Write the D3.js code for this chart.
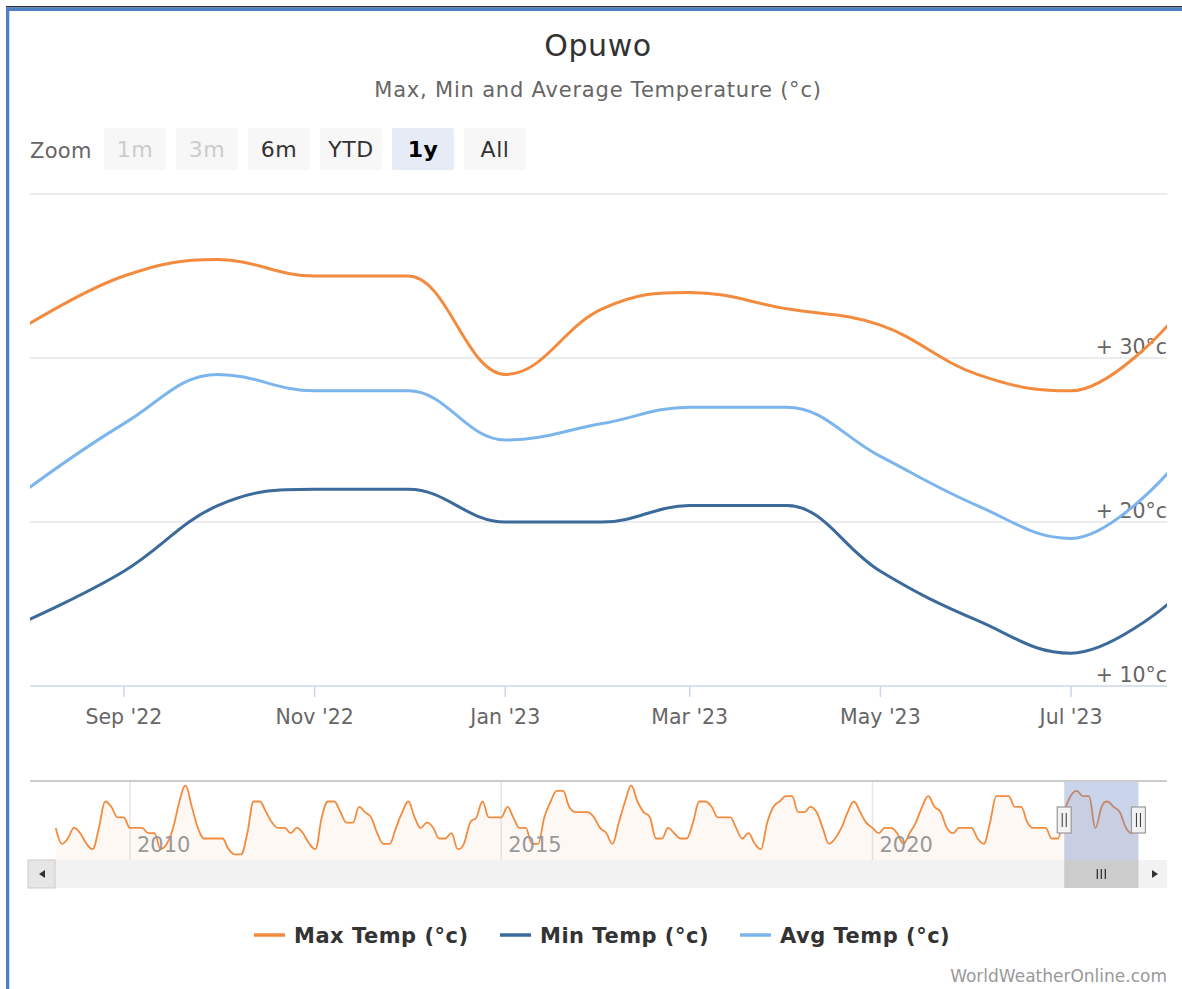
<!DOCTYPE html>
<html><head><meta charset="utf-8">
<script src="https://cdn.jsdelivr.net/npm/d3@7"></script>
<style>body{margin:0;background:#fff}svg{display:block;font-family:"DejaVu Sans",sans-serif}</style>
</head><body><svg id="c" width="1182" height="989"></svg>
<script>
// ---- data ----
const months = ["2022-08-01","2022-09-01","2022-10-01","2022-11-01","2022-12-01","2023-01-01","2023-02-01","2023-03-01","2023-04-01","2023-05-01","2023-06-01","2023-07-01","2023-08-01"];
const maxTemp = [32,35,36,35,35,29,33,34,33,32,29,28,32];
const minTemp = [14,17,21,22,22,20,20,21,21,17,14,12,15];
const avgTemp = [22,26,29,28,28,25,26,27,27,24,21,19,23];
const yTicks = [10,20,30,40];
const xTickMonths = ["2022-09-01","2022-11-01","2023-01-01","2023-03-01","2023-05-01","2023-07-01"];
// navigator: monthly max temperature Jan 2009 - Jul 2022 (then the main max series)
const navStart = "2009-01-01";
const navHistory = [
 29,26,27,29,28,26,25,29,34,33,31,31,
 29,29,29,28,28,25,26,29,34,37,33,29,
 27,27,27,27,25,24,24,28,34,34,32,30,
 29,29,28,29,28,26,25,31,34,34,32,30,
 30,33,32,31,28,26,26,29,32,34,31,29,
 30,29,27,27,28,25,26,30,31,34,31,31,
 31,33,31,29,29,26,26,31,34,36,36,33,
 32,32,32,31,29,28,26,30,34,37,34,32,
 31,27,27,29,28,27,27,30,34,34,33,31,
 31,31,29,27,28,26,25,30,33,34,35,35,
 32,32,33,32,29,26,27,29,32,34,32,30,
 29,28,29,29,28,26,28,30,33,35,33,32,
 29,28,29,29,29,27,26,30,35,35,35,33,
 33,30,29,29,29,27,27];
const navYears = [2010,2015,2020];
const zoomButtons = ["1m","3m","6m","YTD","1y","All"];
const seriesNames = ["Max Temp (°c)","Min Temp (°c)","Avg Temp (°c)"];
const colors = ["#f28b3e","#3b6a9b","#7cb5ec"];

// ---- helpers ----
const parse = d3.timeParse("%Y-%m-%d");
function hcSpline(pts, p) {
  p = p || d3.path();
  const conts = [];
  pts.forEach((pt, i) => {
    const x = pt[0], y = pt[1];
    if (i === 0) { p.moveTo(x, y); conts[0] = null; return; }
    const prev = pts[i-1], next = pts[i+1];
    let lcx = x, lcy = y, rcx, rcy;
    if (next) {
      const sm = 1.5, den = 2.5;
      lcx = (sm*x + prev[0])/den; lcy = (sm*y + prev[1])/den;
      rcx = (sm*x + next[0])/den; rcy = (sm*y + next[1])/den;
      if (rcx !== lcx) { const corr = ((rcy-lcy)*(rcx-x))/(rcx-lcx) + y - rcy; lcy += corr; rcy += corr; }
      if (lcy > prev[1] && lcy > y) { lcy = Math.max(prev[1], y); rcy = 2*y - lcy; }
      else if (lcy < prev[1] && lcy < y) { lcy = Math.min(prev[1], y); rcy = 2*y - lcy; }
      if (rcy > next[1] && rcy > y) { rcy = Math.max(next[1], y); lcy = 2*y - rcy; }
      else if (rcy < next[1] && rcy < y) { rcy = Math.min(next[1], y); lcy = 2*y - rcy; }
    }
    const pc = conts[i-1] || prev;
    p.bezierCurveTo(pc[0], pc[1], lcx, lcy, x, y);
    conts[i] = next ? [rcx, rcy] : null;
  });
  return p;
}

const svg = d3.select("#c");
const W = 1182, H = 989;
const L = 30, R = 1167, T = 194, B = 686;
svg.append("rect").attr("width", W).attr("height", H).attr("fill", "#fff");

// border
svg.append("rect").attr("x", 6).attr("y", 6).attr("width", W-6).attr("height", 1.5).attr("fill", "#2a2f3a");
svg.append("rect").attr("x", 6).attr("y", 7.5).attr("width", W-6).attr("height", 3.5).attr("fill", "#4f7fc3");
svg.append("rect").attr("x", 6).attr("y", 7.5).attr("width", 3.3).attr("height", H).attr("fill", "#4f7fc3");

// titles
svg.append("text").attr("x", 598).attr("y", 56).attr("text-anchor", "middle").attr("font-size", 30).attr("letter-spacing", 0.6).attr("fill", "#333").text("Opuwo");
svg.append("text").attr("x", 598).attr("y", 97).attr("text-anchor", "middle").attr("font-size", 21).attr("letter-spacing", 0.8).attr("fill", "#666").text("Max, Min and Average Temperature (°c)");

// range selector
svg.append("text").attr("x", 30).attr("y", 158).attr("font-size", 21).attr("letter-spacing", 0.3).attr("fill", "#666").text("Zoom");
const bg = svg.append("g");
zoomButtons.forEach((b, i) => {
  const x = 104 + i*72;
  const sel = b === "1y", dis = (b === "1m" || b === "3m");
  bg.append("rect").attr("x", x).attr("y", 128).attr("width", 62).attr("height", 42).attr("rx", 2)
    .attr("fill", sel ? "#e6ebf5" : "#f7f7f7");
  bg.append("text").attr("x", x + 31).attr("y", 157).attr("text-anchor", "middle").attr("font-size", 22).attr("letter-spacing", 0.5)
    .attr("font-weight", sel ? "bold" : "normal").attr("fill", dis ? "#cccccc" : (sel ? "#000" : "#333")).text(b);
});

// scales
const x = d3.scaleTime().domain([parse(months[0]), parse(months[months.length-1])]).range([27, 1168]);
const y = d3.scaleLinear().domain([10, 40]).range([B, T]);

// grid
svg.append("g").selectAll("line").data(yTicks.filter(t => t !== 10)).join("line")
  .attr("x1", L).attr("x2", R).attr("y1", d => y(d)).attr("y2", d => y(d))
  .attr("stroke", "#e6e6e6").attr("stroke-width", 1.5);
svg.append("line").attr("x1", L).attr("x2", R).attr("y1", B).attr("y2", B).attr("stroke", "#ccd6eb").attr("stroke-width", 1.5);
svg.append("g").selectAll("text").data(yTicks.filter(t => t !== 40)).join("text")
  .attr("x", R).attr("y", d => y(d) - 4).attr("text-anchor", "end").attr("font-size", 20.5).attr("fill", "#666")
  .text(d => "+ " + d + "°c");

// x axis
const fmt = d3.timeFormat("%b '%y");
const xt = svg.append("g");
xTickMonths.map(parse).forEach(d => {
  xt.append("line").attr("x1", x(d)).attr("x2", x(d)).attr("y1", B).attr("y2", B + 11).attr("stroke", "#ccd6eb").attr("stroke-width", 1.5);
  xt.append("text").attr("x", x(d)).attr("y", 724).attr("text-anchor", "middle").attr("font-size", 20.5).attr("fill", "#666").text(fmt(d));
});

// series
svg.append("clipPath").attr("id", "plotclip").append("rect").attr("x", L).attr("y", 150).attr("width", R - L).attr("height", 560);
const dates = months.map(parse);
const sg = svg.append("g").attr("clip-path", "url(#plotclip)");
[maxTemp, minTemp, avgTemp].forEach((arr, k) => {
  const pts = arr.map((v, i) => [x(dates[i]), y(v)]);
  sg.append("path").attr("d", hcSpline(pts).toString()).attr("fill", "none").attr("stroke", colors[k])
    .attr("stroke-width", 3).attr("stroke-linejoin", "round").attr("stroke-linecap", "round");
});

// navigator
const NT = 781, NB = 860;
const nx = d3.scaleTime().domain([new Date(2010, 0, 1), new Date(2020, 0, 1)]).range([130, 872.5]);
const ny = d3.scaleLinear().domain([23.5, 37.5]).range([857, 783]);
const navVals = navHistory.concat(maxTemp);
const n0 = parse(navStart);
const navDates = navVals.map((v, i) => d3.timeMonth.offset(n0, i));
const ng = svg.append("g");
navYears.forEach(yr => {
  const xx = nx(new Date(yr, 0, 1));
  ng.append("line").attr("x1", xx).attr("x2", xx).attr("y1", NT).attr("y2", NB).attr("stroke", "#e6e6e6").attr("stroke-width", 1.5);
});
const npts = navVals.map((v, i) => [nx(navDates[i]), ny(v)]);
const areaP = hcSpline(npts);
areaP.lineTo(npts[npts.length-1][0], NB); areaP.lineTo(npts[0][0], NB); areaP.closePath();
ng.append("path").attr("d", areaP.toString()).attr("fill", colors[0]).attr("fill-opacity", 0.06);
ng.append("path").attr("d", hcSpline(npts).toString()).attr("fill", "none").attr("stroke", colors[0]).attr("stroke-width", 1.8);
navYears.forEach(yr => {
  const xx = nx(new Date(yr, 0, 1));
  ng.append("text").attr("x", xx + 7).attr("y", 852).attr("font-size", 21).attr("fill", "#999").text(yr);
});
const m0 = nx(dates[0]), m1 = nx(dates[dates.length-1]);
ng.append("rect").attr("x", m0).attr("y", NT).attr("width", m1 - m0).attr("height", NB - NT).attr("fill", "rgba(102,133,194,0.35)");
ng.append("line").attr("x1", L).attr("x2", R).attr("y1", NT).attr("y2", NT).attr("stroke", "#cccccc").attr("stroke-width", 2);
[m0, m1].forEach(hx => {
  ng.append("rect").attr("x", hx - 7).attr("y", 807).attr("width", 14).attr("height", 26).attr("fill", "#f2f2f2").attr("stroke", "#999").attr("stroke-width", 1.2);
  [-2, 2].forEach(o => ng.append("line").attr("x1", hx + o).attr("x2", hx + o).attr("y1", 813).attr("y2", 827).attr("stroke", "#333").attr("stroke-width", 1));
});

// scrollbar
const SY = 860, SH = 28;
ng.append("rect").attr("x", L).attr("y", SY).attr("width", R - L).attr("height", SH).attr("fill", "#f2f2f2");
ng.append("rect").attr("x", m0).attr("y", SY).attr("width", m1 - m0).attr("height", SH).attr("fill", "#cccccc");
[-4, 0, 4].forEach(o => ng.append("line").attr("x1", (m0 + m1)/2 + o).attr("x2", (m0 + m1)/2 + o).attr("y1", SY + 9).attr("y2", SY + 19).attr("stroke", "#333").attr("stroke-width", 1.3));
ng.append("rect").attr("x", L - 2).attr("y", SY).attr("width", 27).attr("height", SH).attr("fill", "#e6e6e6").attr("stroke", "#cccccc");
ng.append("path").attr("d", `M${L+9},${SY+14}L${L+15},${SY+10}L${L+15},${SY+18}Z`).attr("fill", "#333");
ng.append("rect").attr("x", R - 25).attr("y", SY).attr("width", 25).attr("height", SH).attr("fill", "#f2f2f2");
ng.append("path").attr("d", `M${R-9},${SY+14}L${R-15},${SY+10}L${R-15},${SY+18}Z`).attr("fill", "#333");

// legend
const lx = [254, 500, 740];
seriesNames.forEach((nm, k) => {
  svg.append("line").attr("x1", lx[k]).attr("x2", lx[k] + 31).attr("y1", 935).attr("y2", 935).attr("stroke", colors[k]).attr("stroke-width", 3.5);
  svg.append("text").attr("x", lx[k] + 40).attr("y", 943).attr("font-size", 21).attr("letter-spacing", 0.5).attr("font-weight", "bold").attr("fill", "#333").text(nm);
});

// credits
svg.append("text").attr("x", 1167).attr("y", 982).attr("text-anchor", "end").attr("font-size", 17).attr("fill", "#999").text("WorldWeatherOnline.com");
</script></body></html>
